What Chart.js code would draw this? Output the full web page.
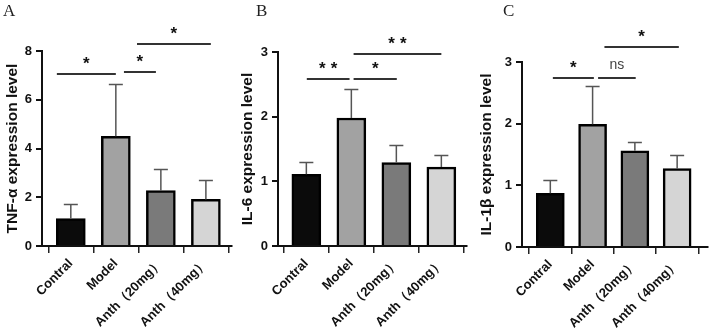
<!DOCTYPE html>
<html>
<head>
<meta charset="utf-8">
<script src="https://cdn.jsdelivr.net/npm/chart.js@4.4.1/dist/chart.umd.min.js"></script>
<style>
  body { margin: 0; background: #fff; }
  #wrap { position: relative; width: 709px; height: 336px; overflow: hidden; }
  .panel { position: absolute; top: 0; }
  .letter { position: absolute; top: 1px; font-family: 'Liberation Serif', 'Times New Roman', serif; font-size: 17px; color: #222; }
</style>
</head>
<body>
<div id="wrap">
  <div class="panel" style="left:0px"><canvas id="chartA" width="235" height="336"></canvas></div>
  <div class="panel" style="left:235px"><canvas id="chartB" width="235" height="336"></canvas></div>
  <div class="panel" style="left:470px"><canvas id="chartC" width="239" height="336"></canvas></div>
  <div class="letter" style="left:3px">A</div>
  <div class="letter" style="left:256px">B</div>
  <div class="letter" style="left:503px">C</div>
</div>
<script>
const categories = ['Contral', 'Model', 'Anth（20mg）', 'Anth（40mg）'];

const tnfMeans = [1.13, 4.50, 2.27, 1.91];
const tnfSd = [0.59, 2.16, 0.87, 0.79];
const il6Means = [1.11, 1.98, 1.29, 1.22];
const il6Sd = [0.19, 0.45, 0.27, 0.18];
const il1bMeans = [0.87, 1.99, 1.56, 1.27];
const il1bSd = [0.21, 0.62, 0.14, 0.22];

const tnfTicks = [0, 2, 4, 6, 8];
const il6Ticks = [0, 1, 2, 3];
const il1bTicks = [0, 1, 2, 3];

// significance: [from group, to group, height, mark]
const tnfSig = [[-0.31, 1.0, 7.05, '*'], [1.18, 1.89, 7.12, '*'], [1.47, 3.11, 8.28, '*']];
const il6Sig = [[0.01, 0.96, 2.58, '**'], [1.05, 2.01, 2.58, '*'], [1.05, 3.0, 2.97, '**']];
const il1bSig = [[0.06, 1.03, 2.74, '*'], [1.13, 2.02, 2.74, 'ns'], [1.28, 3.04, 3.25, '*']];

const barColors = ['#0b0b0b', '#a2a2a2', '#7a7a7a', '#d5d5d5'];
const FONT = "'Liberation Sans', Arial, sans-serif";

Chart.defaults.font.family = FONT;
Chart.defaults.color = '#111';

const errorBars = {
  id: 'errorBars',
  afterDatasetsDraw(chart, args, opts) {
    const ctx = chart.ctx;
    const y = chart.scales.y;
    const data = chart.data.datasets[0].data;
    ctx.save();
    ctx.strokeStyle = '#555';
    ctx.lineWidth = 1.5;
    chart.getDatasetMeta(0).data.forEach((bar, i) => {
      const top = Math.round(y.getPixelForValue(data[i].y + opts.sd[i])) + 0.5;
      ctx.beginPath();
      ctx.moveTo(bar.x, bar.y);
      ctx.lineTo(bar.x, top);
      ctx.moveTo(bar.x - 7, top);
      ctx.lineTo(bar.x + 7, top);
      ctx.stroke();
    });
    ctx.restore();
  }
};

const brackets = {
  id: 'brackets',
  afterDraw(chart, args, opts) {
    const ctx = chart.ctx;
    const x = chart.scales.x, y = chart.scales.y;
    ctx.save();
    opts.items.forEach(([a, b, h, mark]) => {
      const x1 = x.getPixelForValue(a), x2 = x.getPixelForValue(b);
      const py = Math.round(y.getPixelForValue(h));
      ctx.strokeStyle = '#333';
      ctx.lineWidth = 2;
      ctx.beginPath();
      ctx.moveTo(x1, py);
      ctx.lineTo(x2, py);
      ctx.stroke();
      ctx.textAlign = 'center';
      ctx.textBaseline = 'alphabetic';
      if (mark === 'ns') {
        ctx.font = '14px ' + FONT;
        ctx.fillStyle = '#444';
        ctx.fillText(mark, (x1 + x2) / 2, py - 9);
      } else {
        ctx.font = 'bold 17px ' + FONT;
        ctx.fillStyle = '#111';
        const sp = mark.length > 1 ? 5 : 0;
        ctx.letterSpacing = sp + 'px';
        ctx.fillText(mark, (x1 + x2) / 2 + sp / 2, py - 5);
      }
    });
    ctx.restore();
  }
};

function makeChart(id, means, sd, ticks, sig, title, opt) {
  return new Chart(document.getElementById(id), {
    type: 'bar',
    data: {
      datasets: [{
        data: categories.map((c, i) => ({ x: i, y: means[i] })),
        backgroundColor: barColors,
        borderColor: '#000',
        borderWidth: 2.5,
        barThickness: opt.bar
      }]
    },
    options: {
      responsive: false,
      animation: false,
      layout: { padding: { top: opt.top, right: opt.right, left: opt.left, bottom: 0 } },
      plugins: {
        legend: { display: false },
        tooltip: { enabled: false },
        errorBars: { sd: sd },
        brackets: { items: sig }
      },
      scales: {
        x: {
          type: 'linear',
          offset: false,
          min: opt.xmin,
          max: opt.xmax,
          afterBuildTicks: s => { s.ticks = categories.map((c, i) => ({ value: i })); },
          afterFit: s => { s.height = 336 - opt.bottom; s.paddingLeft = 0; s.paddingRight = 0; },
          ticks: {
            callback: v => categories[v],
            autoSkip: false,
            minRotation: 45,
            maxRotation: 45,
            padding: 3,
            color: '#111',
            font: { size: 13, weight: 'bold' }
          },
          grid: { drawOnChartArea: false, drawTicks: true, tickLength: 7, color: '#222', lineWidth: 1.5 },
          border: { color: '#111', width: 2 }
        },
        y: {
          min: ticks[0],
          max: ticks[ticks.length - 1],
          afterBuildTicks: s => { s.ticks = ticks.map(v => ({ value: v })); },
          afterFit: s => { s.width = opt.yw; },
          ticks: { padding: 4, color: '#111', font: { size: 13, weight: 'bold' } },
          grid: { drawOnChartArea: false, drawTicks: true, tickLength: 6, color: '#111', lineWidth: 2 },
          border: { color: '#111', width: 2 },
          title: { display: true, text: title, color: '#111', font: { size: 15.5, weight: 'bold' }, padding: { top: 3, bottom: 2 } }
        }
      }
    },
    plugins: [errorBars, brackets]
  });
}

makeChart('chartA', tnfMeans, tnfSd, tnfTicks, tnfSig, 'TNF-α expression level',
  { top: 51, right: 3, left: 0, bottom: 246, yw: 42, xmin: -0.64, xmax: 3.58, bar: 29 });
makeChart('chartB', il6Means, il6Sd, il6Ticks, il6Sig, 'IL-6 expression level',
  { top: 52, right: 3, left: 0, bottom: 246, yw: 43, xmin: -0.63, xmax: 3.57, bar: 29 });
makeChart('chartC', il1bMeans, il1bSd, il1bTicks, il1bSig, 'IL-1β expression level',
  { top: 62, right: 1, left: 4, bottom: 247, yw: 48, xmin: -0.67, xmax: 3.73, bar: 28 });
</script>
</body>
</html>
